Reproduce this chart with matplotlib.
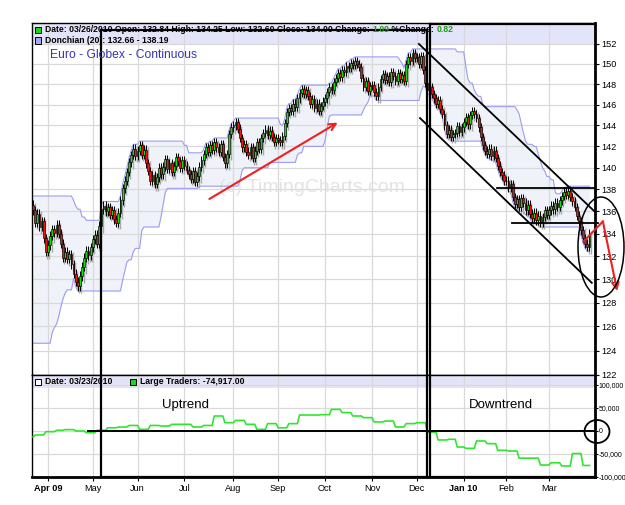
import matplotlib
matplotlib.use('Agg')
import matplotlib.pyplot as plt
import numpy as np
import pandas as pd
from matplotlib.patches import Rectangle, Ellipse
from matplotlib.lines import Line2D

plt.rcParams['font.family'] = ['Liberation Sans', 'DejaVu Sans']

W, H = 625, 505

# Euro FX (Globex, continuous) daily closes, 23 Mar 2009 - 26 Mar 2010
first_open = 136.6
closes = [
    # Mar 09
    136.1, 135.0, 135.8, 134.6, 135.1, 133.6, 132.4,
    # Apr
    133.0, 133.8, 134.4, 134.1, 134.8, 134.0, 133.1, 131.9, 132.4, 131.8, 132.2,
    131.3, 130.5, 129.8, 129.4, 130.3, 131.1, 131.9, 132.5, 132.1, 132.8,
    # May
    133.5, 133.9, 133.1, 134.7, 136.2, 136.5, 136.0, 136.4, 135.7, 136.1, 135.3,
    135.0, 135.9, 137.0, 138.1, 138.8, 139.6, 140.5, 141.2, 141.8, 141.1,
    # Jun
    141.6, 142.1, 141.2, 141.7, 140.4, 139.7, 138.8, 139.3, 138.5, 139.1, 140.0,
    139.4, 140.1, 140.8, 139.9, 140.4, 139.6, 140.2, 141.0, 140.6, 140.0, 140.7,
    # Jul
    140.2, 139.8, 139.4, 139.0, 139.7, 138.7, 139.2, 140.1, 140.7, 141.3, 141.9,
    141.5, 142.1, 141.7, 142.4, 141.9, 141.5, 142.2, 141.0, 140.4, 141.3, 143.2, 143.8,
    # Aug
    144.0, 144.3, 143.7, 142.8, 141.9, 142.2, 141.5, 141.2, 141.9, 140.9, 141.6,
    142.4, 141.8, 142.8, 143.3, 143.6, 143.1, 143.5, 142.9, 142.4, 142.8,
    # Sep
    142.6, 142.4, 143.0, 144.2, 145.3, 145.7, 145.4, 146.1, 145.8, 146.6, 147.1,
    147.5, 147.0, 147.4, 146.8, 146.1, 146.5, 145.7, 146.1, 145.4, 145.9, 146.3,
    # Oct
    146.6, 147.2, 147.7, 147.4, 148.2, 148.6, 149.1, 148.7, 149.4, 149.2, 149.8,
    149.6, 150.1, 149.9, 150.3, 150.0, 149.7, 148.6, 147.7, 148.3, 147.3, 147.8,
    # Nov
    147.9, 147.2, 146.8, 147.7, 148.5, 149.0, 148.4, 148.8, 148.2, 149.2, 148.8,
    148.3, 149.1, 148.5, 148.9, 148.3, 150.0, 150.7, 150.3, 151.1, 150.6,
    # Dec
    150.7, 150.0, 150.8, 149.4, 148.1, 147.4, 147.7, 147.0, 146.6, 146.1, 146.4,
    145.6, 145.1, 144.0, 143.2, 143.6, 142.9, 143.2, 143.3, 143.9, 143.4, 143.8,
    # Jan 10
    144.3, 144.8, 144.1, 145.0, 145.4, 145.1, 144.7, 143.8, 142.9, 142.1,
    141.6, 141.3, 141.8, 141.1, 141.6, 140.9, 140.2, 139.6, 139.3, 138.8,
    # Feb
    138.8, 138.2, 138.5, 137.3, 136.7, 137.1, 136.4, 137.2, 136.8, 136.1,
    136.6, 135.8, 135.4, 135.9, 135.2, 135.6, 135.0, 135.5, 136.1, 135.7,
    # Mar
    136.1, 136.5, 136.2, 136.8, 136.4, 137.0, 137.4, 137.8, 137.5, 137.9,
    137.3, 136.9, 136.4, 135.6, 135.1, 134.3, 133.6, 133.1, 132.84, 134.0,
]
holidays = ['2009-04-10', '2009-12-25', '2010-01-01']
wick = 0.4

# Donchian(20) band for the first days (comes from data before the window)
don_seed_up = [137.4] * 19
don_seed_lo = [124.6] * 9 + [125.5, 125.9, 126.2, 126.8, 127.6, 128.3, 128.8, 129.1, 129.1, 129.1]

# Large traders net position (weekly, Tuesday dates)
cot_dates = ['2009-03-17', '2009-03-24', '2009-03-31', '2009-04-07', '2009-04-14', '2009-04-21',
             '2009-04-28', '2009-05-05', '2009-05-12', '2009-05-19', '2009-05-26', '2009-06-02',
             '2009-06-09', '2009-06-16', '2009-06-23', '2009-06-30', '2009-07-07', '2009-07-14',
             '2009-07-21', '2009-07-28', '2009-08-04', '2009-08-11', '2009-08-18', '2009-08-25',
             '2009-09-01', '2009-09-08', '2009-09-15', '2009-09-22', '2009-09-29', '2009-10-06',
             '2009-10-13', '2009-10-20', '2009-10-27', '2009-11-03', '2009-11-10', '2009-11-17',
             '2009-11-24', '2009-12-01', '2009-12-08', '2009-12-15', '2009-12-22', '2009-12-29',
             '2010-01-05', '2010-01-12', '2010-01-19', '2010-01-26', '2010-02-02', '2010-02-09',
             '2010-02-16', '2010-02-23', '2010-03-02', '2010-03-09', '2010-03-16', '2010-03-23']
cot_values = [-13000, -8700, -1500, 1500, 3000, 0, -3700, 1500, 7000, 8500, 12000, 3500,
              12000, 10800, 14500, 14500, 8700, 12000, 32600, 18000, 23000, 14500, 3500, 16000,
              7000, 16000, 34700, 34700, 35500, 47000, 40000, 32600, 29000, 19600, 21700, 8700,
              16000, 18000, -2500, -19500, -18000, -34800, -37700, -21700, -27500, -42000, -43500,
              -59000, -59000, -74000, -69000, -76000, -49000, -74917]

month_labels = ['Apr 09', 'May', 'Jun', 'Jul', 'Aug', 'Sep', 'Oct', 'Nov', 'Dec', 'Jan 10', 'Feb', 'Mar']
price_ticks = list(range(122, 153, 2))
cot_ticks = [100000, 50000, 0, -50000, -100000]
cot_tick_labels = ['100,000', '50,000', '0', '-50,000', '-100,000']

# ---------------------------------------------------------------
dates = pd.bdate_range('2009-03-23', '2010-03-26')
dates = dates[~dates.isin(pd.to_datetime(holidays))]
n = len(dates)
assert n == len(closes)
idx = np.arange(n)
c = np.array(closes)
o = np.r_[first_open, c[:-1]]
hi = np.maximum(o, c) + wick
lo = np.minimum(o, c) - wick

don_up = pd.Series(hi).rolling(20).max().to_numpy()
don_lo = pd.Series(lo).rolling(20).min().to_numpy()
don_up[:19] = don_seed_up
don_lo[:19] = don_seed_lo

cot = pd.Series(cot_values, index=pd.to_datetime(cot_dates))
cot_daily = cot.reindex(dates.union(cot.index)).ffill().reindex(dates).to_numpy()

month_pos = [i for i in range(1, n) if dates[i].month != dates[i - 1].month]

fig = plt.figure(figsize=(W / 100, H / 100), dpi=100)
ax = fig.add_axes([32 / W, 1 - 375 / H, 563 / W, 352 / H])
ax2 = fig.add_axes([32 / W, 1 - 477 / H, 563 / W, 102 / H], sharex=ax)

grid_c = '#d9d9d9'
for a in (ax, ax2):
    a.set_axisbelow(True)
    a.grid(True, color=grid_c, lw=0.9)
    for s in a.spines.values():
        s.set_linewidth(1.0)
    a.spines['right'].set_linewidth(2.0)
    a.yaxis.tick_right()
    a.tick_params(axis='y', direction='out', length=3, pad=1.5, labelsize=6.6, width=0.8)

# price panel
ax.set_yscale('log')
ax.set_ylim(122.0, 154.13)
ax.set_xlim(-0.5, 263.6)
ax.set_yticks(price_ticks)
ax.set_yticklabels([str(t) for t in price_ticks])
ax.yaxis.set_minor_locator(plt.NullLocator())
ax.tick_params(axis='x', length=0, labelbottom=False)
ax.add_patch(Rectangle((0, 0.9403), 1, 0.0597, transform=ax.transAxes,
                       color='#e4e4f8', lw=0, zorder=0.2))

ax.fill_between(idx, don_lo, don_up, color='#eff3f9', lw=0, zorder=0.3)
ax.plot(idx, don_up, color='#9c9cf2', lw=0.8, zorder=2)
ax.plot(idx, don_lo, color='#9c9cf2', lw=0.8, zorder=2)

ax.text(312 / W, 1 - 188 / H, '(c) TimingCharts.com', transform=fig.transFigure,
        ha='center', va='center', fontsize=14, color='#e3e3e3', zorder=0.6)

# candles
ax.vlines(idx + 0.7, lo - 0.2, hi - 0.2, color='#a8a8a8', lw=1.0, zorder=2.5)
ax.vlines(idx, lo, hi, color='black', lw=0.7, zorder=3)
up = c >= o
ax.bar(idx, np.abs(c - o), bottom=np.minimum(o, c), width=0.85,
       color=np.where(up, '#14dc14', '#ee1414'), edgecolor='black', linewidth=0.45, zorder=4)

# trend channel drawn on the chart
ax.plot([181.0, 263.6], [152.0, 135.96], color='black', lw=1.3, clip_on=False, zorder=6)
ax.plot([181.5, 262.1], [144.7, 129.7], color='black', lw=1.3, clip_on=False, zorder=6)
ax.plot([217.6, 263.6], [138.1, 138.1], color='black', lw=1.3, clip_on=False, zorder=6)
ax.plot([224.6, 265.0], [134.98, 134.98], color='black', lw=1.3, clip_on=False, zorder=6)
ax.annotate('', xy=(144, 144.4), xytext=(81.6, 137.0),
            arrowprops=dict(arrowstyle='->', color='#ee2020', lw=1.5, mutation_scale=12))
ax.plot([258.2, 267.3], [133.3, 135.1], color='#ee2020', lw=1.5, clip_on=False, zorder=6)
ax.annotate('', xy=(274, 129.0), xytext=(267.3, 135.1), annotation_clip=False,
            arrowprops=dict(arrowstyle='->', color='#ee2020', lw=1.5, mutation_scale=12,
                            shrinkA=0, shrinkB=0))

# large traders panel
ax2.set_ylim(-100000, 121700)
ax2.set_yticks(cot_ticks)
ax2.set_yticklabels(cot_tick_labels)
ax2.tick_params(axis='y', length=2, pad=0.8, labelsize=5.0)
for t in ax2.get_yticklabels():
    t.set_family(['Liberation Sans Narrow', 'Liberation Sans', 'DejaVu Sans'])
ax2.add_patch(Rectangle((0, 0.8725), 1, 0.1275, transform=ax2.transAxes,
                        color='#e4e4f8', lw=0, zorder=0.2))
ax2.plot(idx, cot_daily, color='#2fe62f', lw=1.2, zorder=3)
ax2.plot([25.7, 263.6], [0, 0], color='black', lw=1.4, zorder=4)
ax2.spines['bottom'].set_linewidth(2.0)
ax2.set_xticks(month_pos)
ax2.set_xticklabels(month_labels)
ax2.tick_params(axis='x', direction='out', length=3, pad=2, labelsize=6.6, width=0.8)
for t in ax2.get_xticklabels():
    if ' ' in t.get_text():
        t.set_fontweight('bold')

# header texts
renderer = fig.canvas.get_renderer()


def run_text(x, y, parts, **kw):
    for s, col in parts:
        t = fig.text(x / W, 1 - y / H, s, color=col, va='center', **kw)
        x = t.get_window_extent(renderer).x1


def square(x, y, fc):
    fig.add_artist(Rectangle((x / W, 1 - (y + 6) / H), 6 / W, 6 / H, fc=fc, ec='black',
                             lw=0.7, transform=fig.transFigure))


hk = dict(fontsize=6.2, fontweight='bold')
square(35, 26.5, '#14dc14')
run_text(45, 29.5, [('Date: 03/26/2010 Open: 132.84 High: 134.25 Low: 132.60 Close: 134.00 Change: ', 'black'),
                    ('1.09', '#18a018'), (' %Change: ', 'black'), ('0.82', '#18a018')], **hk)
square(35, 37.5, '#a8a8f0')
run_text(45, 40.5, [('Donchian (20): 132.66 - 138.19', 'black')], **hk)
square(35, 378.5, 'white')
run_text(45, 381.5, [('Date: 03/23/2010', 'black')], **hk)
square(130, 378.5, '#14dc14')
run_text(140, 381.5, [('Large Traders: -74,917.00', 'black')], **hk)

fig.text(50 / W, 1 - 55 / H, 'Euro - Globex - Continuous', color='#3535bb', fontsize=8.7, va='center')
fig.text(186 / W, 1 - 405 / H, 'Uptrend', fontsize=9.5, ha='center', va='center')
fig.text(501 / W, 1 - 405 / H, 'Downtrend', fontsize=9.5, ha='center', va='center')


# hand-drawn boxes and circles (pixel positions on the page)
def line_px(xs, ys, lw=1.6):
    fig.add_artist(Line2D([x / W for x in xs], [1 - y / H for y in ys], color='black', lw=lw,
                          transform=fig.transFigure))


line_px([101, 101], [30, 477])
line_px([101, 427], [30, 30])
line_px([427, 427], [30, 477])
line_px([430, 430], [24, 477])
line_px([430, 595], [24, 24])
line_px([101, 595], [477, 477])
fig.add_artist(Ellipse((601 / W, 1 - 247 / H), 46 / W, 100 / H, fill=False, ec='black', lw=1.1,
                       transform=fig.transFigure))
fig.add_artist(Ellipse((597 / W, 1 - 431.5 / H), 25 / W, 23 / H, fill=False, ec='black', lw=1.3,
                       transform=fig.transFigure))

fig.savefig('out.png', dpi=100)
